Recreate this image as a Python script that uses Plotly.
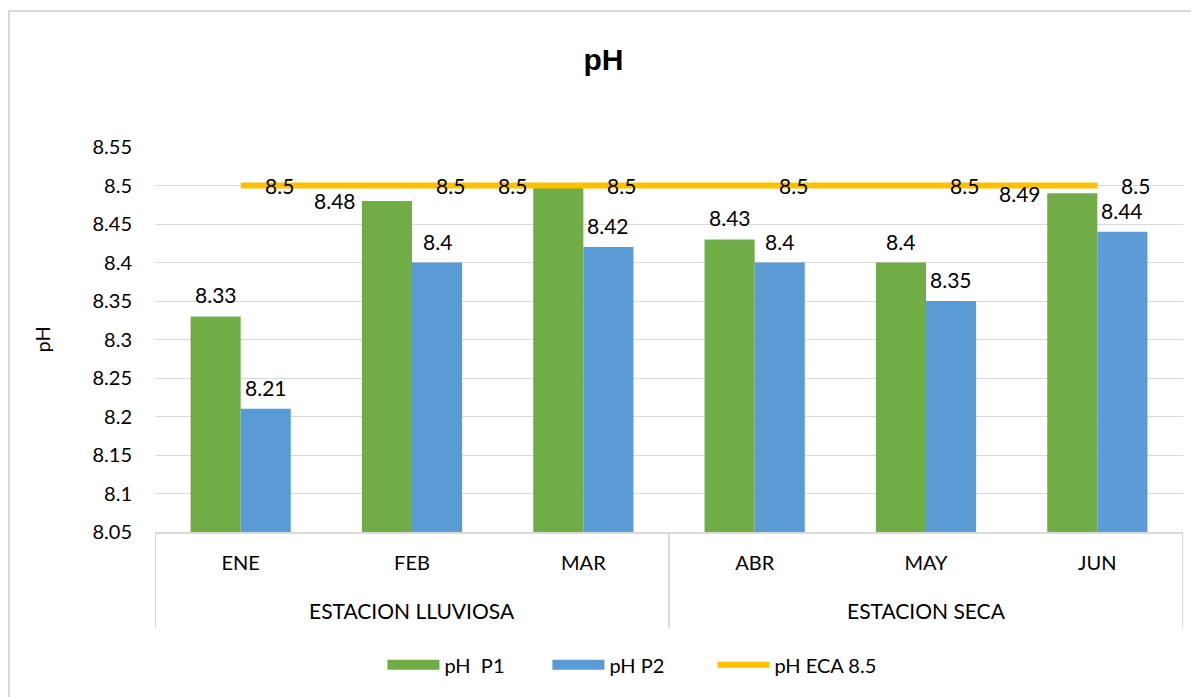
import plotly.graph_objects as go

months = ["ENE", "FEB", "MAR", "ABR", "MAY", "JUN"]
seasons = ["ESTACION LLUVIOSA", "ESTACION LLUVIOSA", "ESTACION LLUVIOSA",
           "ESTACION SECA", "ESTACION SECA", "ESTACION SECA"]
ph_p1 = [8.33, 8.48, 8.50, 8.43, 8.40, 8.49]
ph_p2 = [8.21, 8.40, 8.42, 8.40, 8.35, 8.44]
ph_eca = [8.5, 8.5, 8.5, 8.5, 8.5, 8.5]
y_ticks = [8.05, 8.1, 8.15, 8.2, 8.25, 8.3, 8.35, 8.4, 8.45, 8.5, 8.55]

FONT = "Lato, Calibri, Carlito, sans-serif"
GREEN = "#70AD47"
BLUE = "#5B9BD5"
ORANGE = "#FFC000"
GRID = "#D9D9D9"

x_idx = list(range(len(months)))

fig = go.Figure()
fig.add_trace(go.Bar(x=x_idx, y=[v - 8.05 for v in ph_p1], base=8.05, name="pH  P1",
                     legendgroup="p1", showlegend=False,
                     marker=dict(color=GREEN, line=dict(width=0))))
fig.add_trace(go.Bar(x=x_idx, y=[v - 8.05 for v in ph_p2], base=8.05, name="pH P2",
                     legendgroup="p2", showlegend=False,
                     marker=dict(color=BLUE, line=dict(width=0))))
fig.add_trace(go.Scatter(x=x_idx, y=ph_eca, name="pH ECA 8.5", mode="lines",
                         line=dict(color=ORANGE, width=6), showlegend=False))
# legend swatches (wide rectangles like the original)
fig.add_trace(go.Scatter(x=[None], y=[None], mode="lines", name="pH  P1", legendgroup="p1",
                         line=dict(color=GREEN, width=16)))
fig.add_trace(go.Scatter(x=[None], y=[None], mode="lines", name="pH P2", legendgroup="p2",
                         line=dict(color=BLUE, width=16)))
fig.add_trace(go.Scatter(x=[None], y=[None], mode="lines", name="pH ECA 8.5",
                         line=dict(color=ORANGE, width=6)))

bargap = 0.415
bw = (1 - bargap) / 2
ann = []
for i, (a, b, e) in enumerate(zip(ph_p1, ph_p2, ph_eca)):
    if a >= 8.47:
        ann.append(dict(x=i - bw, y=a, text=f"{a:g}", xanchor="right", yanchor="middle",
                        xshift=-4, showarrow=False))
    else:
        ann.append(dict(x=i - bw / 2, y=a, text=f"{a:g}", xanchor="center", yanchor="bottom",
                        yshift=7, showarrow=False))
    ann.append(dict(x=i + bw / 2, y=b, text=f"{b:g}", xanchor="center", yanchor="bottom",
                    yshift=7, showarrow=False))
    ann.append(dict(x=i, y=e, text=f"{e:g}", xanchor="left", yanchor="middle",
                    xshift=22, showarrow=False))

uniq = []
for s in seasons:
    if s not in uniq:
        uniq.append(s)
shapes = []
for s in uniq:
    idx = [i for i, t in enumerate(seasons) if t == s]
    ann.append(dict(x=sum(idx) / len(idx), y=-0.2026, xref="x", yref="paper", text=s,
                    showarrow=False, xanchor="center", yanchor="middle"))
    shapes.append(dict(type="line", xref="x", yref="paper", x0=min(idx) - 0.5, x1=min(idx) - 0.5,
                       y0=0, y1=-0.25, line=dict(color=GRID, width=2)))
shapes.append(dict(type="line", xref="x", yref="paper", x0=len(months) - 0.5, x1=len(months) - 0.5,
                   y0=0, y1=-0.25, line=dict(color=GRID, width=2)))
# outer chart border
shapes.append(dict(type="rect", xref="paper", yref="paper", x0=-0.142, x1=1.05, y0=-0.5, y1=1.353,
                   line=dict(color=GRID, width=2), fillcolor="rgba(0,0,0,0)", layer="below"))

ann.append(dict(x=-0.11, y=0.5, xref="paper", yref="paper", text="pH", textangle=-90,
                showarrow=False, xanchor="center", yanchor="middle", font=dict(size=20)))

fig.update_layout(
    width=1191, height=689,
    margin=dict(l=147, r=16, t=139, b=165),
    paper_bgcolor="white", plot_bgcolor="white",
    font=dict(family=FONT, size=21, color="#000000"),
    title=dict(text="<b>pH</b>", x=0.5, xanchor="center", y=0.925, yanchor="middle",
               font=dict(family="Liberation Sans, Arial, sans-serif", size=30, color="#000000")),
    barmode="group", bargap=bargap, bargroupgap=0,
    showlegend=True,
    legend=dict(orientation="h", x=0.462, xanchor="center", y=-0.345, yanchor="middle",
                font=dict(size=20), itemwidth=52, entrywidth=98, entrywidthmode="pixels",
                traceorder="normal"),
    annotations=ann, shapes=shapes,
    xaxis=dict(range=[-0.5, len(months) - 0.5], tickvals=x_idx, ticktext=months,
               showgrid=False, showline=True, linecolor=GRID, linewidth=2,
               ticks="", ticklabelstandoff=12, zeroline=False, automargin=False,
               tickfont=dict(size=20)),
    yaxis=dict(range=[8.05, 8.55], tickvals=y_ticks, ticktext=[f"{v:g}" for v in y_ticks],
               showgrid=True, gridcolor=GRID, gridwidth=1, zeroline=False,
               showline=False, ticks="", ticklabelstandoff=22, automargin=False,
               tickfont=dict(size=20)),
)

fig.write_html("out.html")
